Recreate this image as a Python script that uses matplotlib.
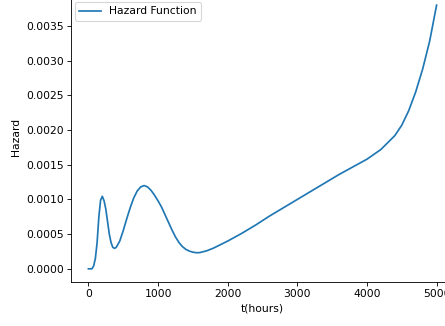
import matplotlib
matplotlib.use("Agg")
import matplotlib.pyplot as plt
import numpy as np

t_hours = [0, 50, 75, 100, 125, 150, 175, 200, 225, 250, 275, 300, 325, 350, 375,
           400, 450, 500, 550, 600, 650, 700, 750, 800, 850, 900, 950, 1000,
           1050, 1100, 1150, 1200, 1250, 1300, 1350, 1400, 1450, 1500, 1550,
           1600, 1700, 1800, 2000, 2200, 2400, 2600, 2800, 3000, 3200, 3400,
           3600, 3800, 4000, 4200, 4400, 4500, 4600, 4700, 4800, 4900, 5000]
hazard_e3 = [0.0, 0.0, 0.04, 0.15, 0.38, 0.75, 0.99, 1.045, 0.98, 0.86, 0.68, 0.50,
             0.38, 0.31, 0.295, 0.31, 0.40, 0.55, 0.72, 0.88, 1.02, 1.12, 1.18,
             1.20, 1.18, 1.13, 1.06, 0.98, 0.89, 0.78, 0.67, 0.56, 0.46, 0.38,
             0.32, 0.28, 0.255, 0.24, 0.232, 0.234, 0.26, 0.30, 0.40, 0.51, 0.63,
             0.76, 0.88, 1.00, 1.12, 1.24, 1.36, 1.47, 1.58, 1.72, 1.92, 2.07,
             2.28, 2.55, 2.88, 3.28, 3.80]
hazard = np.array(hazard_e3) * 1e-3

dpi = 77
W, H = 445, 326
fig = plt.figure(figsize=(W / dpi, H / dpi), dpi=dpi)
ax = fig.add_axes([71 / W, 44 / H, 383 / W, 290 / H])
ax.plot(t_hours, hazard, color="#1f77b4", lw=1.6, label="Hazard Function")
ax.set_xlabel("t(hours)")
ax.set_ylabel("Hazard")
ax.legend(loc="upper left", bbox_to_anchor=(75 / W, 1 - 2 / H),
          bbox_transform=fig.transFigure, borderaxespad=0)
fig.savefig("out.png", dpi=dpi)
